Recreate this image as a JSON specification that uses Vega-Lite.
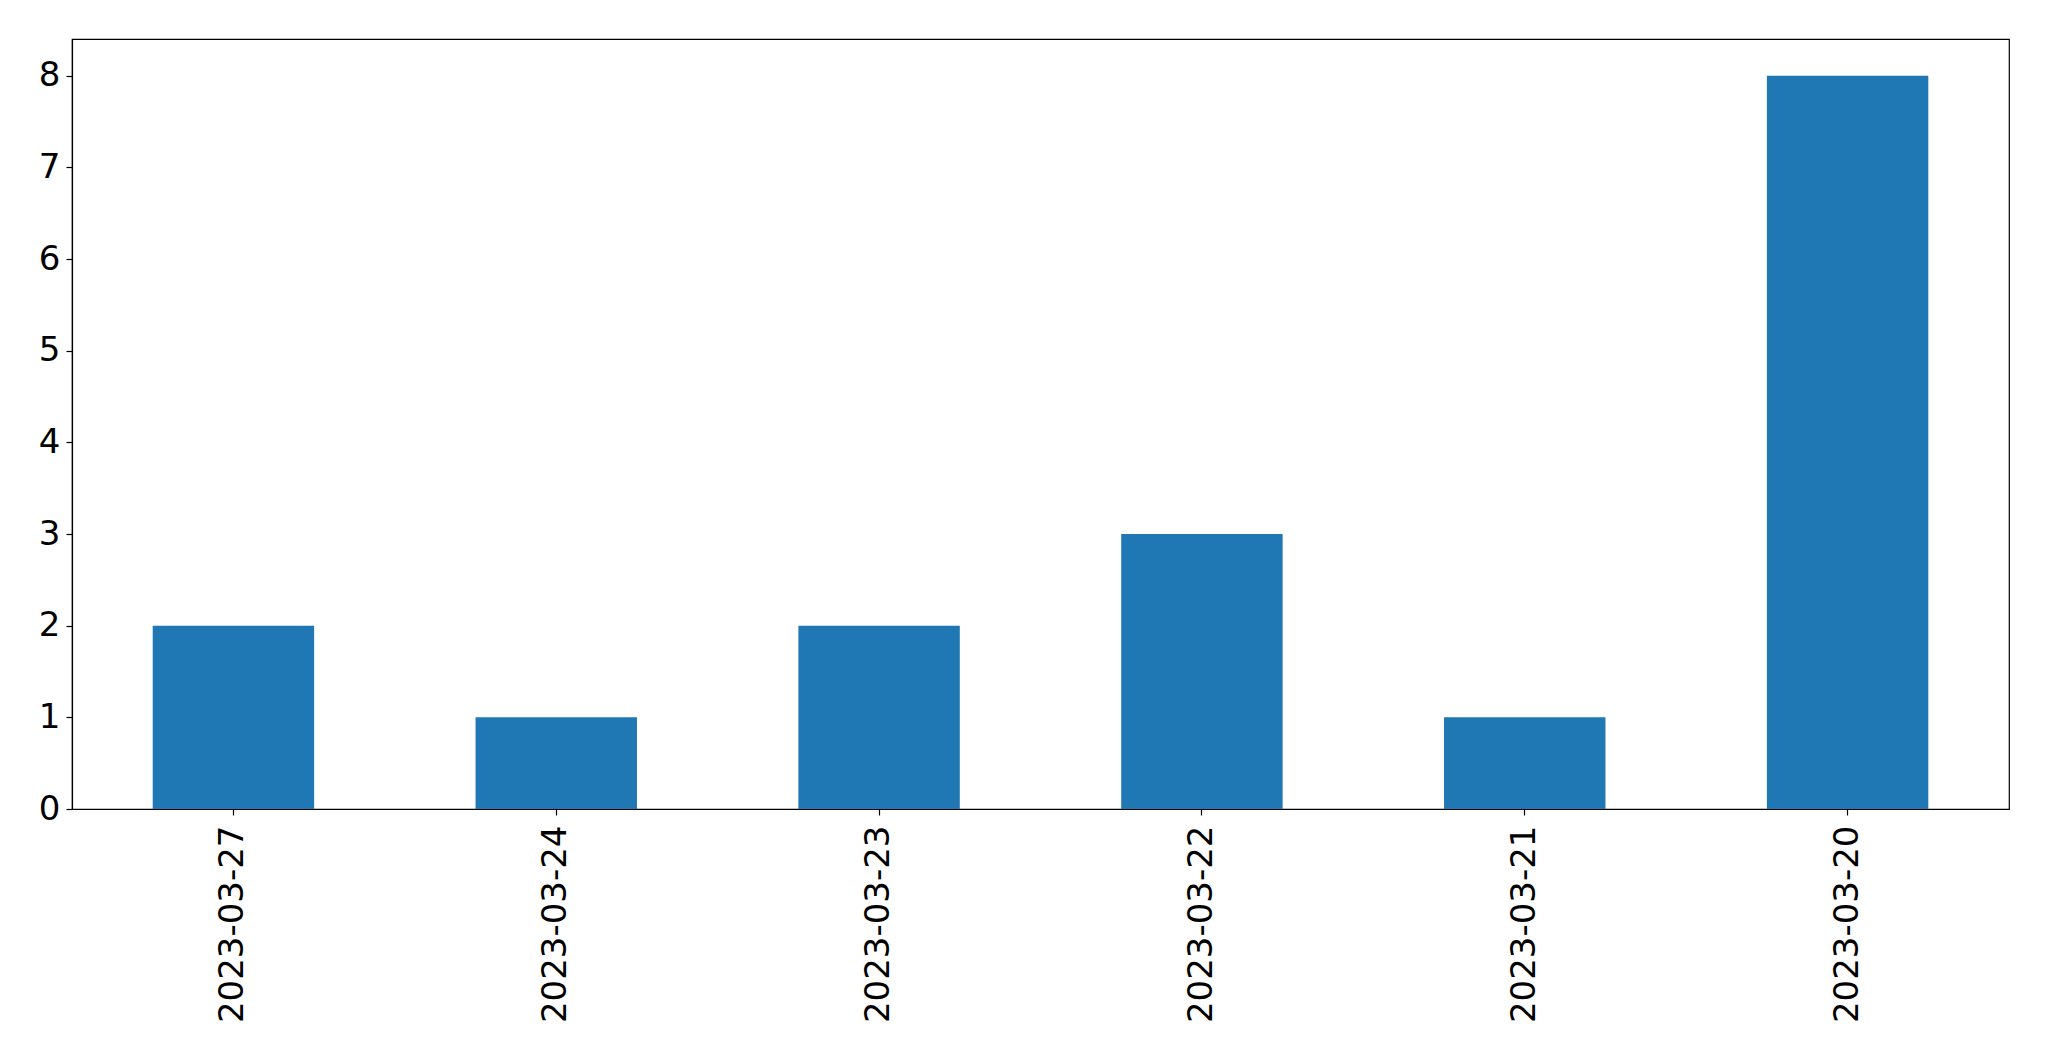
{
  "$schema": "https://vega.github.io/schema/vega-lite/v6.json",
  "width": 1937,
  "height": 770,
  "autosize": {"type": "none"},
  "padding": {"left": 72, "top": 39, "right": 40, "bottom": 252},
  "background": "white",
  "config": {
    "view": {"stroke": "black", "strokeWidth": 1.2},
    "font": "DejaVu Sans",
    "axis": {
      "labelFont": "DejaVu Sans",
      "labelFontSize": 34,
      "labelLimit": 0,
      "labelColor": "black",
      "tickColor": "black",
      "domainColor": "black",
      "tickSize": 6,
      "tickWidth": 1.2,
      "domainWidth": 1.2,
      "grid": false,
      "title": null
    }
  },
  "data": {
    "values": [
      {"date": "2023-03-27", "count": 2},
      {"date": "2023-03-24", "count": 1},
      {"date": "2023-03-23", "count": 2},
      {"date": "2023-03-22", "count": 3},
      {"date": "2023-03-21", "count": 1},
      {"date": "2023-03-20", "count": 8}
    ]
  },
  "mark": {"type": "bar", "color": "#1f77b4"},
  "encoding": {
    "x": {
      "field": "date",
      "type": "nominal",
      "sort": null,
      "scale": {"paddingInner": 0.5, "paddingOuter": 0.25},
      "axis": {"labelAngle": 270, "labelPadding": 10}
    },
    "y": {
      "field": "count",
      "type": "quantitative",
      "scale": {"domain": [0, 8.4], "nice": false, "zero": true},
      "axis": {"values": [0, 1, 2, 3, 4, 5, 6, 7, 8], "labelPadding": 6}
    }
  }
}
